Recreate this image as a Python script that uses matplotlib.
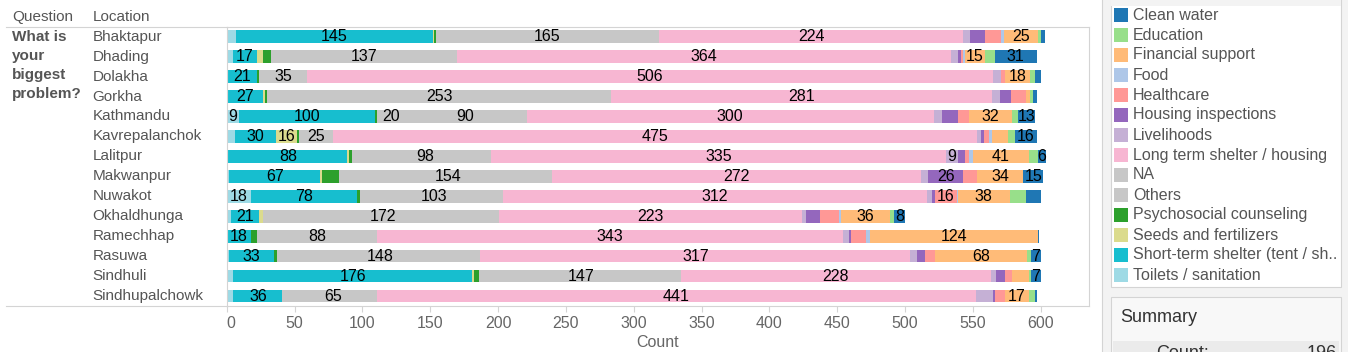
import matplotlib.pyplot as plt
from matplotlib.patches import Rectangle
from matplotlib.lines import Line2D

plt.rcParams['font.family'] = ['Liberation Sans', 'DejaVu Sans']

# ---- data ----
locations = ["Bhaktapur", "Dhading", "Dolakha", "Gorkha", "Kathmandu", "Kavrepalanchok",
             "Lalitpur", "Makwanpur", "Nuwakot", "Okhaldhunga", "Ramechhap", "Rasuwa",
             "Sindhuli", "Sindhupalchowk"]

toilets     = [7, 5, 1, 0, 9, 6, 1, 2, 18, 3, 0, 2, 5, 5]
short_term  = [145, 17, 21, 27, 100, 30, 88, 67, 78, 21, 18, 33, 176, 36]
seeds       = [1, 5, 0, 1, 0, 16, 1, 1, 0, 3, 0, 0, 1, 0]
psycho      = [1, 6, 2, 2, 2, 1, 2, 13, 2, 0, 4, 2, 4, 0]
others      = [0, 0, 0, 0, 20, 0, 5, 3, 3, 2, 1, 2, 2, 5]
na          = [165, 137, 35, 253, 90, 25, 98, 154, 103, 172, 88, 148, 147, 65]
long_term   = [224, 364, 506, 281, 300, 475, 335, 272, 312, 223, 343, 317, 228, 441]
livelihoods = [5, 5, 6, 6, 6, 3, 9, 5, 4, 3, 5, 5, 4, 13]
housing     = [11, 2, 0, 8, 12, 2, 5, 26, 2, 10, 1, 6, 7, 1]
healthcare  = [12, 2, 3, 11, 8, 4, 3, 10, 16, 14, 11, 7, 5, 8]
food        = [2, 1, 0, 0, 0, 2, 3, 0, 1, 2, 3, 0, 0, 0]
financial   = [25, 15, 18, 3, 32, 12, 41, 34, 38, 36, 124, 68, 12, 17]
education   = [2, 7, 4, 2, 4, 5, 7, 0, 12, 3, 0, 3, 2, 5]
clean_water = [3, 31, 4, 3, 13, 16, 6, 15, 11, 8, 1, 7, 7, 1]

legend_names = ["Clean water", "Education", "Financial support", "Food", "Healthcare",
                "Housing inspections", "Livelihoods", "Long term shelter / housing", "NA",
                "Others", "Psychosocial counseling", "Seeds and fertilizers",
                "Short-term shelter (tent / sh..", "Toilets / sanitation"]
legend_colors = ["#1f77b4", "#98df8a", "#ffbb78", "#aec7e8", "#ff9896", "#9467bd", "#c5b0d5",
                 "#f7b6d2", "#c7c7c7", "#c7c7c7", "#2ca02c", "#dbdb8d", "#17becf", "#9edae5"]
# series in legend order, stacked in reverse (toilets first)
series = [clean_water, education, financial, food, healthcare, housing, livelihoods,
          long_term, na, others, psycho, seeds, short_term, toilets]

# small segments that still carry a label in the reference
extra_labels = [("Kathmandu", "Toilets / sanitation"), ("Kathmandu", "Clean water"),
                ("Lalitpur", "Livelihoods"), ("Lalitpur", "Clean water"),
                ("Okhaldhunga", "Clean water"), ("Rasuwa", "Clean water"),
                ("Sindhuli", "Clean water")]

W, H = 1348, 352
def fx(x):
    return x / W
def fy(y):
    return 1 - y / H

fig = plt.figure(figsize=(W / 100, H / 100), dpi=100)
grid_c = "#d4d4d4"
text_c = "#555555"

ax = fig.add_axes([fx(226.7), fy(306), (1089 - 226.7) / W, (306 - 26.7) / H])
rows = list(range(len(locations)))
left = [0] * len(locations)
for name, col, vals in list(zip(legend_names, legend_colors, series))[::-1]:
    ax.barh(rows, vals, left=left, height=0.635, color=col, linewidth=0)
    for i, v in enumerate(vals):
        if v >= 15 or (locations[i], name) in extra_labels:
            ax.text(left[i] + v / 2, i, str(v), ha="center", va="center",
                    fontsize=11.5, color="black")
    left = [a + b for a, b in zip(left, vals)]

ax.set_xlim(0, (1089 - 226.7) / 1.3567)
ax.set_ylim(13.5, -0.5)
ax.set_yticks([])
ax.set_xticks(range(0, 601, 50))
ax.tick_params(axis="x", colors=grid_c, labelcolor="#666666", labelsize=11.5, length=4, width=0.8, pad=3)
ax.get_xticklabels()[0].set_ha("left")
for s in ax.spines.values():
    s.set_color(grid_c)
    s.set_linewidth(0.8)
ax.set_xlabel("Count", fontsize=11.5, color="#666666", labelpad=3)

# pane lines extending to the left
for yy in (26.7, 306):
    fig.add_artist(Line2D([fx(6), fx(226.7)], [fy(yy), fy(yy)], color=grid_c, lw=0.8))

# row headers
fig.text(fx(12), fy(21), "Question", fontsize=11, color=text_c, va="baseline")
fig.text(fx(92.5), fy(21), "Location", fontsize=11, color=text_c, va="baseline")
for k, line in enumerate(["What is", "your", "biggest", "problem?"]):
    fig.text(fx(12), fy(40.7 + 19 * k), line, fontsize=11, color=text_c,
             fontweight="bold", va="baseline")
for i, loc in enumerate(locations):
    fig.text(fx(92.5), fy(40.7 + 19.95 * i), loc, fontsize=11, color=text_c, va="baseline")

# right panel
fig.add_artist(Rectangle((fx(1101.7), 0), 1 - fx(1101.7), 1, transform=fig.transFigure,
                         facecolor="#f3f3f3", edgecolor="none"))
fig.add_artist(Line2D([fx(1101.7), fx(1101.7)], [0, 1], color=grid_c, lw=0.8))
fig.add_artist(Rectangle((fx(1110.7), fy(286.7)), (1341 - 1110.7) / W, 300 / H,
                         transform=fig.transFigure, facecolor="white", edgecolor=grid_c, lw=0.8))
fig.add_artist(Rectangle((fx(1111.2), fy(6)), (1340.5 - 1111.2) / W, 6 / H,
                         transform=fig.transFigure, facecolor="#f3f3f3", edgecolor="none"))
for k, (name, col) in enumerate(zip(legend_names, legend_colors)):
    yc = 15 + 20 * k
    fig.add_artist(Rectangle((fx(1114), fy(yc + 7)), 14 / W, 14 / H, transform=fig.transFigure,
                             facecolor=col, edgecolor="none"))
    fig.text(fx(1133), fy(yc), name, fontsize=11.5, color=text_c, va="center")

# summary box (cut off by the bottom edge, as in the reference)
fig.add_artist(Rectangle((fx(1110.7), fy(360)), (1341 - 1110.7) / W, (360 - 296.7) / H,
                         transform=fig.transFigure, facecolor="#f8f8f8", edgecolor=grid_c, lw=0.8))
fig.text(fx(1120), fy(318), "Summary", fontsize=13, color="#333333", va="center")
fig.add_artist(Rectangle((fx(1113), 0), (1339 - 1113) / W, (352 - 341) / H,
                         transform=fig.transFigure, facecolor="#ebebeb", edgecolor="none"))
fig.text(fx(1156), fy(345), "Count:", fontsize=13, color="#333333", va="top")
fig.text(fx(1337), fy(345), "196", fontsize=13, color="#333333", va="top", ha="right")

fig.savefig("out.png", dpi=100)
